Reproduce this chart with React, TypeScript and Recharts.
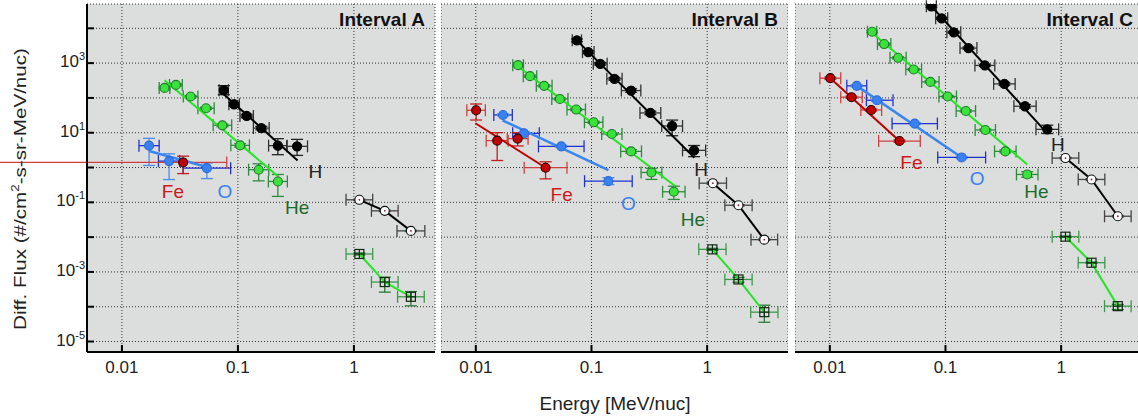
import React from 'react';
import { ScatterChart, Scatter, XAxis, YAxis, CartesianGrid, ErrorBar } from 'recharts';

const FONT = '"Liberation Sans", Arial, Helvetica, sans-serif';

const X_DOMAIN = [0.005, 5];
const Y_DOMAIN = [5e-6, 5e4];
const X_TICKS = [0.01, 0.1, 1];
const Y_TICKS = [1e-5, 1e-4, 1e-3, 1e-2, 1e-1, 1, 10, 100, 1000, 1e4];

// [energy MeV/nuc, flux, xErr low (dex), xErr high (dex), yErr low (dex), yErr high (dex)]
type Pt = [number, number, number, number, number, number];
type XY = [number, number];

// ---- Interval A ----
const heA: Pt[] = [
  [0.0233, 194, 0.046, 0.046, 0.03, 0.03],
  [0.0292, 237, 0.055, 0.055, 0.03, 0.03],
  [0.0391, 110, 0.063, 0.063, 0.03, 0.03],
  [0.0531, 50.5, 0.07, 0.07, 0.03, 0.03],
  [0.0735, 16.3, 0.08, 0.08, 0.04, 0.04],
  [0.1045, 4.33, 0.08, 0.08, 0.05, 0.05],
  [0.151, 0.865, 0.087, 0.087, 0.32, 0.17],
  [0.221, 0.398, 0.082, 0.082, 0.43, 0.2],
];
const heFitA: XY[] = [[0.0233, 324], [0.221, 0.565]];
const hA: Pt[] = [
  [0.0755, 167, 0.04, 0.04, 0.13, 0.13],
  [0.0927, 65.8, 0.045, 0.045, 0.05, 0.05],
  [0.119, 30.3, 0.058, 0.058, 0.05, 0.05],
  [0.159, 13.6, 0.068, 0.068, 0.05, 0.05],
  [0.221, 4.25, 0.08, 0.08, 0.26, 0.2],
  [0.3236, 4.06, 0.09, 0.09, 0.26, 0.2],
];
const hFitA: XY[] = [[0.0726, 143], [0.327, 1.6]];
const oA: Pt[] = [
  [0.01714, 4.25, 0.087, 0.087, 0.57, 0.21],
  [0.0255, 1.53, 0.092, 0.092, 0.53, 0.21],
  [0.054, 0.96, 0.205, 0.205, 0.3, 0.15],
];
const oFitA: XY[] = [[0.01714, 2.97], [0.054, 1.03]];
const feA: Pt[] = [[0.0337, 1.4, 3, 0.376, 0.32, 0.18]];
const hHiA: Pt[] = [
  [1.114, 0.118, 0.115, 0.115, 0.02, 0.02],
  [1.845, 0.0569, 0.115, 0.115, 0.02, 0.02],
  [3.1, 0.0151, 0.12, 0.12, 0.02, 0.02],
];
const heHiA: Pt[] = [
  [1.114, 0.00328, 0.115, 0.115, 0.03, 0.03],
  [1.845, 5.12e-4, 0.115, 0.115, 0.29, 0.14],
  [3.1, 1.93e-4, 0.115, 0.115, 0.26, 0.15],
];
const labelsA: [string, number, number][] = [
  ['Fe', 0.0275, 0.209], ['O', 0.0774, 0.205], ['H', 0.466, 0.787], ['He', 0.324, 0.0694],
];

// ---- Interval B ----
const heB: Pt[] = [
  [0.0232, 875, 0.046, 0.046, 0.03, 0.03],
  [0.0294, 422, 0.058, 0.058, 0.03, 0.03],
  [0.039, 222, 0.068, 0.068, 0.03, 0.03],
  [0.0533, 93.5, 0.07, 0.07, 0.03, 0.03],
  [0.0738, 46.3, 0.08, 0.08, 0.03, 0.03],
  [0.1045, 19.9, 0.08, 0.08, 0.03, 0.03],
  [0.15, 9.18, 0.088, 0.088, 0.03, 0.03],
  [0.22, 2.91, 0.09, 0.09, 0.05, 0.05],
  [0.33, 0.722, 0.09, 0.09, 0.2, 0.12],
  [0.515, 0.201, 0.097, 0.097, 0.22, 0.16],
];
const heFitB: XY[] = [[0.0218, 935], [0.532, 0.291]];
const hB: Pt[] = [
  [0.0748, 4510, 0.04, 0.04, 0.04, 0.04],
  [0.0938, 2075, 0.05, 0.05, 0.04, 0.04],
  [0.119, 955, 0.06, 0.06, 0.04, 0.04],
  [0.158, 353, 0.066, 0.066, 0.04, 0.04],
  [0.22, 163, 0.084, 0.084, 0.05, 0.05],
  [0.323, 37, 0.09, 0.09, 0.05, 0.05],
  [0.498, 15.6, 0.09, 0.09, 0.28, 0.17],
  [0.771, 3.11, 0.1, 0.1, 0.18, 0.14],
];
const hFitB: XY[] = [[0.0748, 4510], [0.776, 1.91]];
const oB: Pt[] = [
  [0.0172, 32.4, 0.08, 0.08, 0.03, 0.03],
  [0.0261, 9.6, 0.098, 0.132, 0.03, 0.03],
  [0.0548, 4.06, 0.197, 0.197, 0.03, 0.03],
  [0.14, 0.406, 0.206, 0.206, 0.1, 0.1],
];
const oFitB: XY[] = [[0.017, 22.8], [0.14, 0.841]];
const feB: Pt[] = [
  [0.01006, 44.2, 0.08, 0.08, 0.28, 0.18],
  [0.0153, 5.92, 0.095, 0.095, 0.57, 0.23],
  [0.023, 6.76, 0.09, 0.09, 0.21, 0.17],
  [0.0401, 0.987, 0.185, 0.185, 0.32, 0.17],
];
const feFitB: XY[] = [[0.00993, 18.7], [0.0401, 0.987]];
const hHiB: Pt[] = [
  [1.12, 0.355, 0.118, 0.118, 0.02, 0.02],
  [1.866, 0.0824, 0.118, 0.118, 0.02, 0.02],
  [3.12, 0.00847, 0.115, 0.115, 0.02, 0.02],
];
const heHiB: Pt[] = [
  [1.11, 0.00445, 0.118, 0.118, 0.03, 0.03],
  [1.866, 6.08e-4, 0.118, 0.118, 0.08, 0.06],
  [3.12, 6.98e-5, 0.118, 0.118, 0.29, 0.2],
];
const labelsB: [string, number, number][] = [
  ['Fe', 0.0552, 0.168], ['O', 0.2085, 0.0923], ['H', 0.887, 0.881], ['He', 0.752, 0.0319],
];

// ---- Interval C ----
const heC: Pt[] = [
  [0.0232, 7980, 0.04, 0.04, 0.03, 0.03],
  [0.0295, 3530, 0.058, 0.058, 0.03, 0.03],
  [0.0389, 1420, 0.07, 0.07, 0.03, 0.03],
  [0.0531, 658, 0.068, 0.068, 0.03, 0.03],
  [0.074, 289, 0.075, 0.075, 0.03, 0.03],
  [0.1045, 110, 0.076, 0.076, 0.03, 0.03],
  [0.15, 42.2, 0.084, 0.084, 0.03, 0.03],
  [0.221, 12, 0.088, 0.088, 0.03, 0.03],
  [0.329, 2.91, 0.093, 0.093, 0.04, 0.04],
  [0.509, 0.632, 0.093, 0.093, 0.08, 0.08],
];
const heFitC: XY[] = [[0.0226, 7980], [0.509, 1.23]];
const hC: Pt[] = [
  [0.0755, 43000, 0.043, 0.043, 0.03, 0.03],
  [0.0927, 19400, 0.052, 0.052, 0.03, 0.03],
  [0.118, 7670, 0.06, 0.06, 0.03, 0.03],
  [0.158, 2700, 0.073, 0.073, 0.03, 0.03],
  [0.219, 859, 0.086, 0.086, 0.03, 0.03],
  [0.323, 253, 0.093, 0.093, 0.04, 0.04],
  [0.487, 57.7, 0.096, 0.096, 0.05, 0.05],
  [0.759, 12.5, 0.098, 0.098, 0.12, 0.12],
];
const hFitC: XY[] = [[0.0755, 43000], [0.759, 9.62]];
const oC: Pt[] = [
  [0.0171, 222, 0.086, 0.086, 0.03, 0.03],
  [0.0256, 85.9, 0.092, 0.138, 0.03, 0.03],
  [0.0542, 18.3, 0.196, 0.196, 0.03, 0.03],
  [0.138, 1.95, 0.207, 0.207, 0.03, 0.03],
];
const oFitC: XY[] = [[0.0171, 222], [0.138, 1.95]];
const feC: Pt[] = [
  [0.0101, 370, 0.09, 0.09, 0.03, 0.03],
  [0.0154, 105, 0.093, 0.093, 0.03, 0.03],
  [0.0228, 45.1, 0.09, 0.09, 0.03, 0.03],
  [0.04, 5.77, 0.18, 0.18, 0.03, 0.03],
];
const feFitC: XY[] = [[0.0101, 370], [0.04, 5.77]];
const hHiC: Pt[] = [
  [1.09, 1.87, 0.115, 0.115, 0.02, 0.02],
  [1.83, 0.454, 0.115, 0.115, 0.02, 0.02],
  [3.09, 0.0398, 0.115, 0.115, 0.02, 0.02],
];
const heHiC: Pt[] = [
  [1.09, 0.0103, 0.115, 0.115, 0.02, 0.02],
  [1.83, 0.00184, 0.115, 0.115, 0.02, 0.02],
  [3.09, 1.04e-4, 0.115, 0.115, 0.1, 0.05],
];
const labelsC: [string, number, number][] = [
  ['Fe', 0.0508, 1.37], ['O', 0.188, 0.485], ['H', 0.935, 4.63], ['He', 0.61, 0.201],
];

const rows = (pts: Pt[]) =>
  pts.map(([x, y, xl, xh, yl, yh]) => ({
    x,
    y,
    ex: [x - x / 10 ** xl, x * 10 ** xh - x],
    ey: [y - y / 10 ** yl, y * 10 ** yh - y],
  }));

const noShape = () => <g />;

const dot = (fill: string, stroke: string, r = 4.5, center?: string) => (p: any) => (
  <g>
    <circle cx={p.cx} cy={p.cy} r={r} fill={fill} stroke={stroke} strokeWidth={1.1} />
    {center && <circle cx={p.cx} cy={p.cy} r={0.9} fill={center} />}
  </g>
);

const boxCross = (p: any) => (
  <g stroke="#102a12" strokeWidth={1.2} fill="none">
    <rect x={p.cx - 4.5} y={p.cy - 4.5} width={9} height={9} />
    <line x1={p.cx - 4.5} x2={p.cx + 4.5} y1={p.cy} y2={p.cy} />
    <line x1={p.cx} x2={p.cx} y1={p.cy - 4.5} y2={p.cy + 4.5} />
  </g>
);

const STYLE: Record<string, any> = {
  he: { shape: dot('#3be23b', '#1f7a2b'), ex: '#2e8b3e', ey: '#2e8b3e', line: '#22e622' },
  h: { shape: dot('#000', '#000', 4.6), ex: '#333', ey: '#222', line: '#000' },
  hHi: { shape: dot('#fff', '#111', 4.5, '#802050'), ex: '#444', ey: '#444', line: '#000' },
  heHi: { shape: boxCross, ex: '#3a9a4a', ey: '#2a7a36', line: '#22e622' },
  o: { shape: dot('#3a80f0', '#2a6ad8'), ex: '#2233cc', ey: '#4a8ef0', line: '#3a86f0' },
  fe: { shape: dot('#c00000', '#2a0000'), ex: '#d04040', ey: '#c02020', line: '#c00000' },
};

const LABEL_COLOR: Record<string, string> = { Fe: '#cc1a1a', O: '#3a80f0', H: '#222', He: '#1d6b2a' };

function points(key: string, pts: Pt[], kind: string, line = false) {
  const s = STYLE[kind];
  return (
    <Scatter
      key={key}
      data={rows(pts)}
      shape={s.shape}
      isAnimationActive={false}
      line={line ? { stroke: s.line, strokeWidth: 2 } : false}
    >
      <ErrorBar dataKey="ex" direction="x" width={6} stroke={s.ex} strokeWidth={1.3} />
      <ErrorBar dataKey="ey" direction="y" width={6} stroke={s.ey} strokeWidth={1.3} />
    </Scatter>
  );
}

function fit(key: string, pts: XY[], kind: string, w = 2) {
  return (
    <Scatter
      key={key}
      data={pts.map(([x, y]) => ({ x, y }))}
      shape={noShape}
      line={{ stroke: STYLE[kind].line, strokeWidth: w }}
      isAnimationActive={false}
    />
  );
}

function labels(key: string, list: [string, number, number][]) {
  return list.map(([text, x, y]) => (
    <Scatter
      key={key + text}
      data={[{ x, y, text }]}
      isAnimationActive={false}
      shape={(p: any) => (
        <text
          x={p.cx}
          y={p.cy}
          textAnchor="middle"
          dominantBaseline="central"
          fontSize={19}
          fontFamily={FONT}
          fill={LABEL_COLOR[text]}
        >
          {text}
        </text>
      )}
    />
  ));
}

const XTick = (props: any) => (
  <text x={props.x} y={props.y} textAnchor="middle" fontSize={17} fill="#222" fontFamily={FONT}>
    {props.payload.value}
  </text>
);

const YTick = (props: any) => {
  const exp = Math.round(Math.log10(props.payload.value));
  if (exp % 2 === 0) return <g />;
  return (
    <text x={props.x} y={props.y + 4} textAnchor="end" fontSize={17} fill="#222" fontFamily={FONT}>
      10
      <tspan dy={-7} fontSize={11}>
        {exp}
      </tspan>
    </text>
  );
};

const frame = { stroke: '#000', strokeWidth: 2 };
const tickMark = { stroke: '#000', strokeWidth: 2 };

function Panel({ left, width, rightMargin, showY, children }: any) {
  return (
    <div style={{ position: 'absolute', left, top: 0 }}>
      <ScatterChart width={width} height={417} margin={{ top: 4, right: rightMargin, bottom: 35, left: 0 }}>
        <CartesianGrid fill="#dcdddd" fillOpacity={1} stroke="#333" strokeDasharray="1 2" />
        <XAxis
          dataKey="x"
          type="number"
          scale="log"
          domain={X_DOMAIN}
          ticks={X_TICKS}
          allowDataOverflow
          height={30}
          axisLine={frame}
          tickLine={tickMark}
          tickSize={-7}
          tickMargin={28}
          tick={XTick}
        />
        <XAxis
          xAxisId="t"
          orientation="top"
          dataKey="x"
          type="number"
          scale="log"
          domain={X_DOMAIN}
          ticks={X_TICKS}
          allowDataOverflow
          height={0}
          axisLine={frame}
          tickLine={{ stroke: '#000', strokeWidth: 1.5 }}
          tickSize={-6}
          tick={noShape}
        />
        <YAxis
          dataKey="y"
          type="number"
          scale="log"
          domain={Y_DOMAIN}
          ticks={Y_TICKS}
          allowDataOverflow
          width={showY ? 87 : 0}
          axisLine={frame}
          tickLine={tickMark}
          tickSize={-7}
          tickMargin={9}
          tick={showY ? YTick : noShape}
        />
        <YAxis
          yAxisId="r"
          orientation="right"
          dataKey="y"
          type="number"
          scale="log"
          domain={Y_DOMAIN}
          ticks={Y_TICKS}
          allowDataOverflow
          width={0}
          axisLine={frame}
          tickLine={tickMark}
          tickSize={-7}
          tick={noShape}
        />
        {children}
      </ScatterChart>
    </div>
  );
}

export default function App() {
  return (
    <div
      style={{
        position: 'absolute',
        left: 0,
        top: 0,
        width: 1138,
        height: 417,
        overflow: 'hidden',
        background: '#fff',
        fontFamily: FONT,
      }}
    >
      <Panel left={0} width={440} rightMargin={5} showY>
        {[
          fit('heFitA', heFitA, 'he'),
          fit('hFitA', hFitA, 'h'),
          fit('oFitA', oFitA, 'o', 2.5),
          points('heA', heA, 'he'),
          points('hA', hA, 'h'),
          points('oA', oA, 'o'),
          points('feA', feA, 'fe'),
          points('hHiA', hHiA, 'hHi', true),
          points('heHiA', heHiA, 'heHi', true),
          ...labels('lA', labelsA),
        ]}
      </Panel>
      <Panel left={441} width={347} rightMargin={0}>
        {[
          fit('heFitB', heFitB, 'he'),
          fit('hFitB', hFitB, 'h'),
          fit('oFitB', oFitB, 'o', 2.5),
          fit('feFitB', feFitB, 'fe'),
          points('heB', heB, 'he'),
          points('hB', hB, 'h'),
          points('oB', oB, 'o'),
          points('feB', feB, 'fe'),
          points('hHiB', hHiB, 'hHi', true),
          points('heHiB', heHiB, 'heHi', true),
          ...labels('lB', labelsB),
        ]}
      </Panel>
      <Panel left={795} width={347} rightMargin={0}>
        {[
          fit('heFitC', heFitC, 'he'),
          fit('hFitC', hFitC, 'h'),
          fit('oFitC', oFitC, 'o', 2.5),
          fit('feFitC', feFitC, 'fe'),
          points('heC', heC, 'he'),
          points('hC', hC, 'h'),
          points('oC', oC, 'o'),
          points('feC', feC, 'fe'),
          points('hHiC', hHiC, 'hHi', true),
          points('heHiC', heHiC, 'heHi', true),
          ...labels('lC', labelsC),
        ]}
      </Panel>
      <svg
        width={1138}
        height={417}
        style={{ position: 'absolute', left: 0, top: 0, pointerEvents: 'none' }}
        fontFamily={FONT}
      >
        <text x={425} y={26} textAnchor="end" fontSize={19} fontWeight="bold" fill="#111">
          Interval A
        </text>
        <text x={778} y={26} textAnchor="end" fontSize={19} fontWeight="bold" fill="#111">
          Interval B
        </text>
        <text x={1133} y={26} textAnchor="end" fontSize={19} fontWeight="bold" fill="#111">
          Interval C
        </text>
        <text x={615} y={410} textAnchor="middle" fontSize={19} fill="#222">
          Energy [MeV/nuc]
        </text>
        <text
          transform="translate(26,330) rotate(-90)"
          fontSize={17}
          fill="#222"
          textLength={282}
          lengthAdjust="spacingAndGlyphs"
        >
          Diff. Flux (#/cm
          <tspan dy={-7} fontSize={11}>
            2
          </tspan>
          <tspan dy={7}>-s-sr-MeV/nuc)</tspan>
        </text>
      </svg>
    </div>
  );
}
